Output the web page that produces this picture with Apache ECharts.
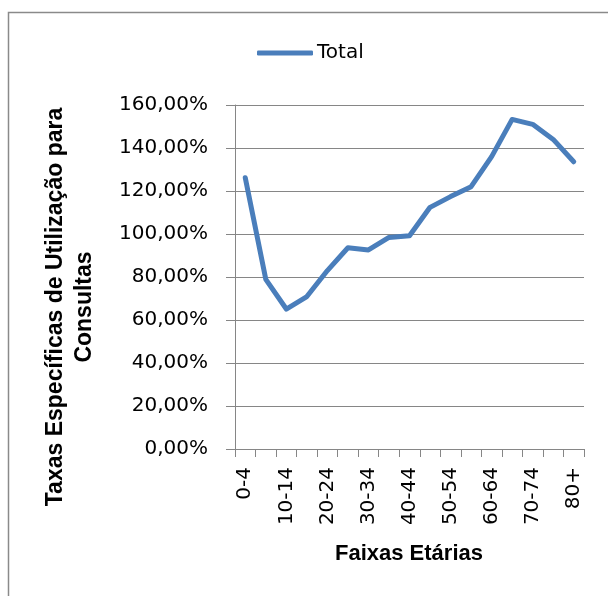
<!DOCTYPE html>
<html>
<head>
<meta charset="utf-8">
<script src="https://cdn.jsdelivr.net/npm/echarts@6/dist/echarts.min.js"></script>
<style>
html,body{margin:0;padding:0;background:#fff;}
#c{width:608px;height:596px;}
</style>
</head>
<body>
<div id="c"></div>
<script>
var categories = ['0-4','5-9','10-14','15-19','20-24','25-29','30-34','35-39','40-44','45-49','50-54','55-59','60-64','65-69','70-74','75-79','80+'];
var totalValues = [126.2, 78.9, 65.1, 70.9, 83.0, 93.6, 92.6, 98.4, 99.2, 112.4, 117.4, 122.0, 136.0, 153.3, 151.0, 144.0, 133.6];
var seriesName = 'Total';
var yTitle = 'Taxas Específicas de Utilização para\nConsultas';
var xTitle = 'Faixas Etárias';

var chart = echarts.init(document.getElementById('c'), null, {renderer:'canvas'});
var gray = '#868686';
chart.setOption({
  animation: false,
  backgroundColor: '#ffffff',
  textStyle: {fontFamily: 'DejaVu Sans'},
  legend: {
    left: 257, top: 43, padding: 0,
    itemWidth: 56, itemHeight: 5, itemGap: 10,
    icon: 'roundRect',
    itemStyle: {color: '#4a7ebb'},
    textStyle: {fontFamily: 'DejaVu Sans', fontSize: 20, color: '#000', padding: [0, 0, 0, -1]},
    data: [seriesName]
  },
  grid: {left: 235, right: 24, top: 105, bottom: 147, containLabel: false},
  xAxis: {
    type: 'category',
    data: categories,
    boundaryGap: true,
    axisLine: {lineStyle: {color: gray, width: 1}},
    axisTick: {show: true, interval: 0, length: 8, alignWithLabel: false, lineStyle: {color: gray}},
    axisLabel: {interval: 1, rotate: 90, margin: 18, color: '#000', fontFamily: 'DejaVu Sans', fontSize: 20},
    splitLine: {show: false}
  },
  yAxis: {
    type: 'value',
    min: 0, max: 160, interval: 20,
    axisLine: {show: true, lineStyle: {color: gray, width: 1}},
    axisTick: {show: true, length: 9, inside: false, lineStyle: {color: gray}},
    axisLabel: {margin: 27, color: '#000', fontFamily: 'DejaVu Sans', fontSize: 20,
      formatter: function(v){ return v.toFixed(2).replace('.', ',') + '%'; }},
    splitLine: {show: true, lineStyle: {color: gray, width: 1}}
  },
  series: [{
    name: seriesName,
    type: 'line',
    data: totalValues,
    symbol: 'none',
    lineStyle: {color: '#4a7ebb', width: 5, cap: 'round', join: 'round'},
    itemStyle: {color: '#4a7ebb'}
  }],
  graphic: [
    {type: 'rect', shape: {x: 8.5, y: 12.5, width: 800, height: 800}, style: {fill: null, stroke: '#8a8a8a', lineWidth: 1.5}, silent: true, z: -1},
    {type: 'text', x: 70, y: 307, rotation: Math.PI/2,
     style: {text: yTitle, fontFamily: 'Liberation Sans', fontWeight: 'bold', fontSize: 23, lineHeight: 29, fill: '#000', align: 'center', verticalAlign: 'middle'}},
    {type: 'text', x: 409, y: 554,
     style: {text: xTitle, fontFamily: 'Liberation Sans', fontWeight: 'bold', fontSize: 22, fill: '#000', align: 'center', verticalAlign: 'middle'}}
  ]
});
</script>
</body>
</html>
